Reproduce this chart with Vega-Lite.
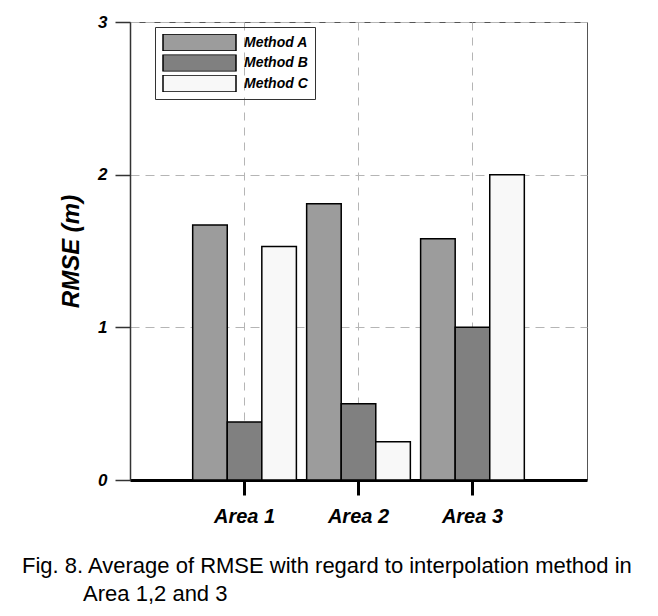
{
  "$schema": "https://vega.github.io/schema/vega-lite/v6.json",
  "width": 457,
  "height": 458,
  "autosize": {"type": "none"},
  "padding": {"left": 130, "top": 22, "right": 71, "bottom": 136},
  "background": "white",
  "title": {
    "text": ["Fig. 8. Average of RMSE with regard to interpolation method in", "\u200b\u00a0\u00a0\u00a0\u00a0\u00a0\u00a0\u00a0\u00a0\u00a0\u00a0Area 1,2 and 3"],
    "orient": "bottom",
    "anchor": "start",
    "frame": "group",
    "dx": -108,
    "offset": 30,
    "font": "Liberation Sans",
    "fontSize": 22,
    "fontWeight": "normal",
    "lineHeight": 28,
    "color": "black"
  },
  "data": {
    "values": [
      {"area": "Area 1", "method": "Method A", "rmse": 1.67},
      {"area": "Area 1", "method": "Method B", "rmse": 0.38},
      {"area": "Area 1", "method": "Method C", "rmse": 1.53},
      {"area": "Area 2", "method": "Method A", "rmse": 1.81},
      {"area": "Area 2", "method": "Method B", "rmse": 0.5},
      {"area": "Area 2", "method": "Method C", "rmse": 0.25},
      {"area": "Area 3", "method": "Method A", "rmse": 1.58},
      {"area": "Area 3", "method": "Method B", "rmse": 1.0},
      {"area": "Area 3", "method": "Method C", "rmse": 2.0}
    ]
  },
  "mark": {"type": "bar", "stroke": "black", "strokeWidth": 1.5},
  "encoding": {
    "x": {
      "field": "area",
      "type": "nominal",
      "scale": {"paddingInner": 0.09, "paddingOuter": 0.55},
      "axis": {
        "title": null,
        "labelAngle": 0,
        "bandPosition": 0.5,
        "grid": true,
        "gridDash": [8, 7],
        "gridColor": "#b5b5b5",
        "gridWidth": 1,
        "domainColor": "black",
        "domainWidth": 3,
        "tickColor": "black",
        "tickWidth": 3,
        "tickSize": 15,
        "labelFont": "Liberation Sans",
        "labelFontSize": 20,
        "labelFontWeight": "bold",
        "labelFontStyle": "italic",
        "labelColor": "black",
        "labelPadding": 11
      }
    },
    "xOffset": {"field": "method", "type": "nominal", "scale": {"paddingInner": 0, "paddingOuter": 0}},
    "y": {
      "field": "rmse",
      "type": "quantitative",
      "scale": {"domain": [0, 3], "nice": false},
      "axis": {
        "title": "RMSE (m)",
        "values": [0, 0.5, 1, 1.5, 2, 2.5, 3],
        "format": "d",
        "labelExpr": "datum.value % 1 === 0 ? datum.label : ''",
        "tickSize": {"condition": {"test": "datum.value % 1 === 0", "value": 15}, "value": 8},
        "gridOpacity": {"condition": {"test": "datum.value % 1 === 0", "value": 1}, "value": 0},
        "grid": true,
        "gridDash": [9, 6],
        "gridColor": "#b5b5b5",
        "domainColor": "#333",
        "domainWidth": 1.5,
        "tickColor": "#333",
        "tickWidth": 1.5,
        "labelFont": "Liberation Sans",
        "labelFontSize": 17,
        "labelFontWeight": "bold",
        "labelFontStyle": "italic",
        "labelColor": "black",
        "labelPadding": 8,
        "titleFont": "Liberation Sans",
        "titleFontSize": 24,
        "titleFontWeight": "bold",
        "titleFontStyle": "italic",
        "titleColor": "black",
        "titlePadding": 14
      }
    },
    "color": {
      "field": "method",
      "type": "nominal",
      "scale": {"domain": ["Method A", "Method B", "Method C"], "range": ["#9c9c9c", "#808080", "#f8f8f8"]},
      "legend": {
        "title": null,
        "orient": "none",
        "legendX": 25,
        "legendY": 5,
        "padding": 7,
        "strokeColor": "#333",
        "symbolType": "M-1,-0.233H1V0.233H-1Z",
        "symbolSize": 5329,
        "symbolStrokeColor": "black",
        "symbolStrokeWidth": 1.5,
        "symbolOpacity": 1,
        "clipHeight": 17,
        "rowPadding": 3.5,
        "labelOffset": 7,
        "labelLimit": 80,
        "labelFont": "Liberation Sans",
        "labelFontSize": 14,
        "labelFontWeight": "bold",
        "labelFontStyle": "italic",
        "labelColor": "black"
      }
    }
  },
  "config": {
    "view": {"stroke": "#555", "strokeWidth": 1}
  }
}
